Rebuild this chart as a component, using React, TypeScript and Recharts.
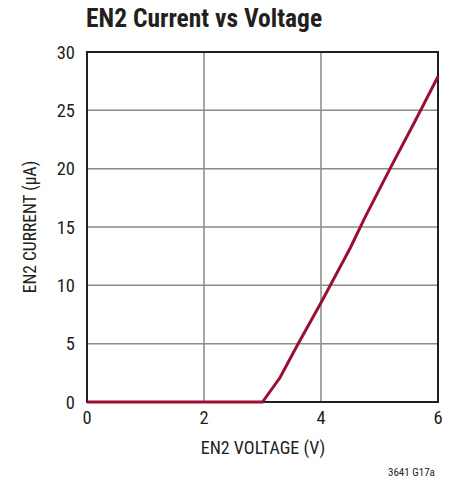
import React from 'react';
import { LineChart, Line, XAxis, YAxis, CartesianGrid, ReferenceArea } from 'recharts';

// EN2 voltage (V) vs current (µA)
const voltage = [0, 1, 2, 3.0, 3.3, 3.6, 4, 4.5, 4.75, 5.2, 5.6, 6];
const current = [0, 0, 0, 0, 2.1, 4.9, 8.5, 13.2, 15.8, 20.2, 24.0, 27.9];
const xTicks = [0, 2, 4, 6];
const yTicks = [0, 5, 10, 15, 20, 25, 30];

const chartData = voltage.map((v, i) => ({ v, i: current[i] }));

const font = "'Liberation Sans Narrow', 'Roboto Condensed', 'Liberation Sans', sans-serif";

export default function App() {
  return (
    <div style={{ position: 'absolute', left: 0, top: 0, width: 467, height: 479, background: '#fff', fontFamily: font }}>
      <div style={{ position: 'absolute', left: 86, top: 3, fontSize: 25.5, fontWeight: 700, color: '#231f20', whiteSpace: 'nowrap' }}>
        EN2 Current vs Voltage
      </div>

      <LineChart width={467} height={479} data={chartData} margin={{ top: 52, right: 29, bottom: 47, left: 27 }}>
        <CartesianGrid stroke="#8a8a8a" strokeWidth={1.5} />
        <XAxis
          dataKey="v"
          type="number"
          domain={[0, 6]}
          ticks={xTicks}
          axisLine={false}
          tickLine={false}
          tickSize={0}
          tickMargin={9}
          height={30}
          tick={{ fill: '#231f20', fontSize: 18.5, fontFamily: font }}
        />
        <YAxis
          type="number"
          domain={[0, 30]}
          ticks={yTicks}
          axisLine={false}
          tickLine={false}
          tickSize={0}
          tickMargin={12}
          width={60}
          tick={{ fill: '#231f20', fontSize: 18.5, fontFamily: font }}
        />
        <ReferenceArea x1={0} x2={6} y1={0} y2={30} fill="none" stroke="#231f20" strokeWidth={2} fillOpacity={0} />
        <Line
          dataKey="i"
          type="linear"
          stroke="#9b0f32"
          strokeWidth={3}
          dot={false}
          isAnimationActive={false}
        />
      </LineChart>

      <div style={{ position: 'absolute', left: 0, width: 526, top: 437, textAlign: 'center', fontSize: 18, color: '#231f20' }}>
        EN2 VOLTAGE (V)
      </div>
      <div
        style={{
          position: 'absolute',
          left: 30,
          top: 227,
          transform: 'translate(-50%, -50%) rotate(-90deg)',
          fontSize: 17.5,
          color: '#231f20',
          whiteSpace: 'nowrap',
        }}
      >
        EN2 CURRENT (µA)
      </div>
      <div style={{ position: 'absolute', left: 388, top: 466, fontSize: 11, color: '#231f20', whiteSpace: 'nowrap' }}>
        3641 G17a
      </div>
    </div>
  );
}
